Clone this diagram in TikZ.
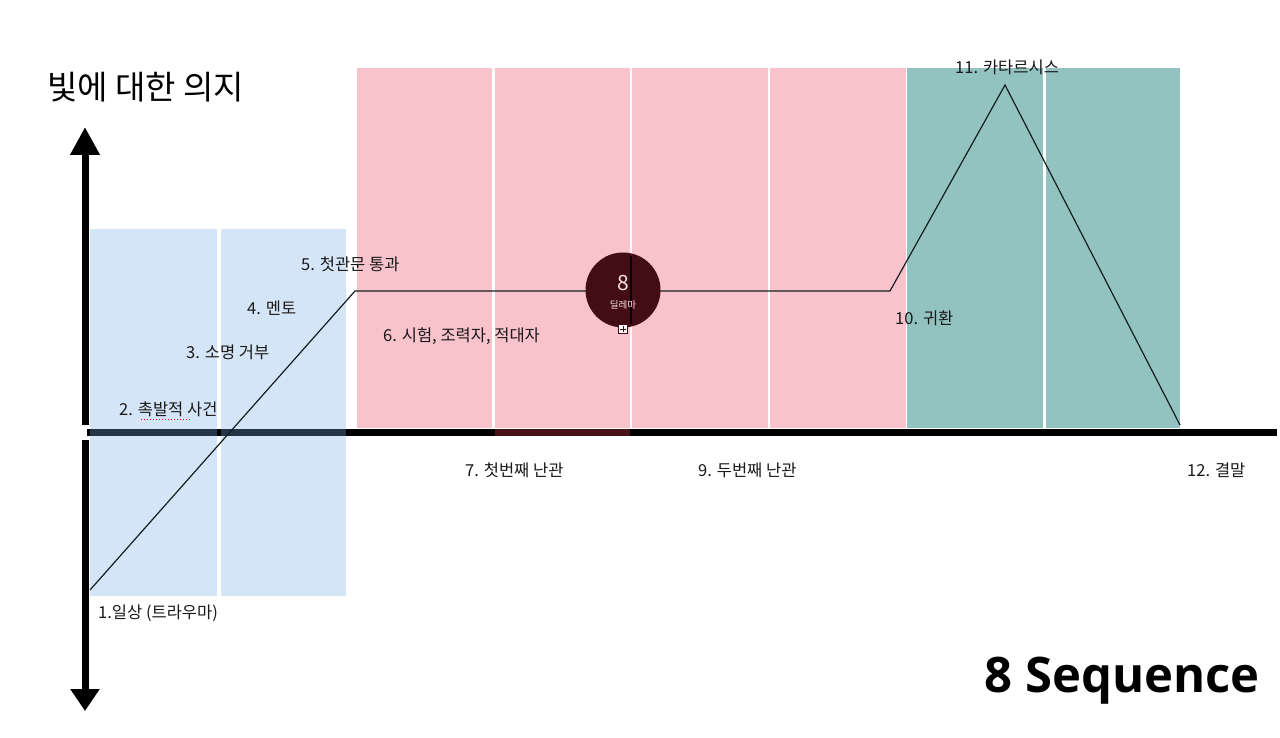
\documentclass[tikz,border=0pt]{standalone}
\usepackage{fontspec}
\setmainfont{Noto Sans CJK KR}
\newfontfamily\seqfont{Open Sans}
\usetikzlibrary{arrows.meta}
\definecolor{blueR}{RGB}{213,229,248}
\definecolor{pinkR}{RGB}{249,195,204}
\definecolor{tealR}{RGB}{146,195,192}
\definecolor{circR}{RGB}{67,13,21}
\definecolor{navyR}{RGB}{38,52,72}
\definecolor{dredR}{RGB}{74,16,24}
\definecolor{lineR}{RGB}{20,30,30}
\tikzset{
  lbl/.style={anchor=west,inner sep=0pt,font=\fontsize{16.5}{19}\selectfont,text=black!90},
  axis/.style={line width=7pt},
  plot/.style={line width=1.2pt,draw=lineR},
}
\begin{document}
\begin{tikzpicture}[x=1pt,y=-1pt]
\useasboundingbox (0,0) rectangle (1280,738);
\fill[white] (0,0) rectangle (1280,738);
% blue panels
\fill[blueR] (90,229) rectangle (217,596);
\fill[blueR] (221,229) rectangle (346,596);
% pink panels
\fill[pinkR] (357,68) rectangle (492,428);
\fill[pinkR] (495,68) rectangle (630,428);
\fill[pinkR] (632,68) rectangle (768,428);
\fill[pinkR] (770,68) rectangle (906,428);
% teal panels
\fill[tealR] (907,68) rectangle (1043,428);
\fill[tealR] (1046,68) rectangle (1180,428);
% axes
\draw[axis] (87,432) -- (1277,432);
\draw[line width=7pt,navyR] (90,432) -- (217,432);
\draw[line width=7pt,navyR] (221,432) -- (346,432);
\draw[line width=7pt,dredR] (495,432) -- (630,432);
\coordinate (up0) at (85,425);
\coordinate (up1) at (85,127);
\coordinate (dn0) at (85,440);
\coordinate (dn1) at (85,711);
\draw[axis,-{Triangle[width=28pt,length=28pt]}] (up0) -- (up1);
\draw[axis,-{Triangle[width=28pt,length=22pt]}] (dn0) -- (dn1);
% plot line
\coordinate (p1) at (90,590);
\coordinate (p5) at (355,291);
\coordinate (p9) at (890,291);
\coordinate (p11) at (1005,85);
\coordinate (p12) at (1180,425);
\draw[plot] (p1) -- (p5) -- (p9) -- (p11) -- (p12);
% dilemma circle
\node[circle,fill=circR,minimum size=75pt,inner sep=0pt] (dil) at (623,290) {};
\draw[black,line width=1.5pt] (631,256) -- (631,324);
\node[inner sep=0pt,text=pinkR!50!white,font=\fontsize{21}{23}\selectfont] (dil8) at (623,283) {8};
\node[inner sep=0pt,text=pinkR!50!white,font=\fontsize{9.5}{11}\selectfont] (dilt) at (623,305) {딜레마};
\node[draw=circR,fill=white!85!pinkR,minimum size=9pt,inner sep=0pt,line width=0.8pt] (icon) at (623,329) {};
\draw[circR,line width=0.8pt] ([xshift=-3pt]icon.center) -- ([xshift=3pt]icon.center);
\draw[circR,line width=0.8pt] ([yshift=-3pt]icon.center) -- ([yshift=3pt]icon.center);
% title
\node[anchor=west,inner sep=0pt,font=\fontsize{33}{36}\selectfont] (title) at (47,87) {빛에 대한 의지};
% labels
\node[lbl] (l1) at (98,613) {1.일상 (트라우마)};
\node[lbl] (l2) at (119,409) {2. 촉발적 사건};
\draw[red,dotted,line width=1pt] (141,419) -- (190,419);
\node[lbl] (l3) at (186,352) {3. 소명 거부};
\node[lbl] (l4) at (247,308) {4. 멘토};
\node[lbl] (l5) at (301,264) {5. 첫관문 통과};
\node[lbl] (l6) at (383,336) {6. 시험, 조력자, 적대자};
\node[lbl] (l7) at (465,470) {7. 첫번째 난관};
\node[lbl] (l9) at (698,470) {9. 두번째 난관};
\node[lbl] (l10) at (895,318) {10. 귀환};
\node[lbl] (l11) at (955,67) {11. 카타르시스};
\node[lbl] (l12) at (1187,470) {12. 결말};
\node[anchor=east,inner sep=0pt,font=\seqfont\bfseries\fontsize{49}{54}\selectfont] (seq) at (1260,681) {8 Sequence};
\end{tikzpicture}
\end{document}
